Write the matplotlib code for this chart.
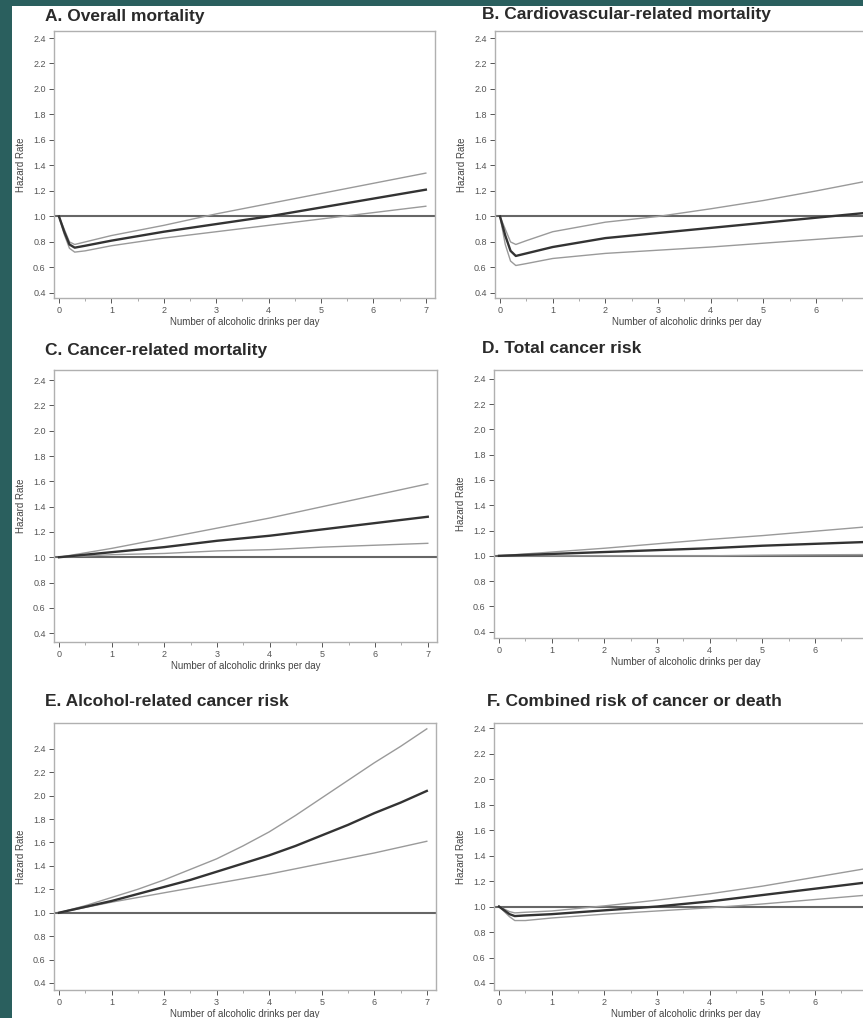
import matplotlib
matplotlib.use('Agg')
import matplotlib.pyplot as plt
from matplotlib.patches import Rectangle
from matplotlib.ticker import MultipleLocator, FormatStrFormatter

plt.rcParams['font.family'] = ['Liberation Sans', 'DejaVu Sans']

W, H = 863, 1018

# drinks per day (finer grid near 0 for the J-shaped panels)
X_DIP = [0, 0.1, 0.2, 0.3, 0.5, 1, 2, 3, 4, 5, 6, 7]
X_LIN = [0, 1, 2, 3, 4, 5, 6, 7]
X_HALF = [0, 0.5, 1, 1.5, 2, 2.5, 3, 3.5, 4, 4.5, 5, 5.5, 6, 6.5, 7]

TITLES = ['A. Overall mortality', 'B. Cardiovascular-related mortality',
          'C. Cancer-related mortality', 'D. Total cancer risk',
          'E. Alcohol-related cancer risk', 'F. Combined risk of cancer or death']

# hazard ratio, upper and lower confidence bound per panel
A_HR = [1.0, 0.88, 0.78, 0.755, 0.77, 0.81, 0.88, 0.94, 1.00, 1.07, 1.14, 1.21]
A_UP = [1.0, 0.90, 0.80, 0.78, 0.80, 0.85, 0.93, 1.02, 1.10, 1.18, 1.26, 1.34]
A_LO = [1.0, 0.86, 0.75, 0.72, 0.73, 0.77, 0.83, 0.88, 0.93, 0.98, 1.03, 1.08]

B_HR = [1.0, 0.85, 0.73, 0.69, 0.71, 0.76, 0.83, 0.87, 0.91, 0.95, 0.99, 1.03]
B_UP = [1.0, 0.90, 0.80, 0.78, 0.81, 0.88, 0.955, 1.0, 1.06, 1.125, 1.20, 1.28]
B_LO = [1.0, 0.78, 0.65, 0.615, 0.63, 0.67, 0.71, 0.735, 0.76, 0.79, 0.82, 0.85]

C_HR = [1.0, 1.04, 1.08, 1.13, 1.17, 1.22, 1.27, 1.32]
C_UP = [1.0, 1.07, 1.15, 1.23, 1.31, 1.40, 1.49, 1.58]
C_LO = [1.0, 1.02, 1.03, 1.05, 1.06, 1.08, 1.095, 1.11]

D_HR = [1.0, 1.015, 1.03, 1.045, 1.06, 1.08, 1.095, 1.11]
D_UP = [1.0, 1.03, 1.06, 1.095, 1.13, 1.16, 1.195, 1.23]
D_LO = [1.0, 1.0, 1.0, 1.0, 1.0, 1.005, 1.008, 1.01]

E_HR = [1.0, 1.05, 1.10, 1.16, 1.22, 1.28, 1.35, 1.42, 1.49, 1.57, 1.66, 1.75, 1.85, 1.94, 2.04]
E_UP = [1.0, 1.06, 1.13, 1.20, 1.28, 1.37, 1.46, 1.57, 1.69, 1.83, 1.98, 2.13, 2.28, 2.42, 2.57]
E_LO = [1.0, 1.045, 1.09, 1.13, 1.17, 1.21, 1.25, 1.29, 1.33, 1.375, 1.42, 1.465, 1.51, 1.56, 1.61]

F_HR = [1.0, 0.97, 0.94, 0.925, 0.93, 0.94, 0.97, 1.0, 1.04, 1.09, 1.14, 1.19]
F_UP = [1.0, 0.98, 0.96, 0.95, 0.955, 0.965, 1.005, 1.05, 1.10, 1.16, 1.23, 1.30]
F_LO = [1.0, 0.96, 0.92, 0.89, 0.89, 0.91, 0.94, 0.965, 0.99, 1.02, 1.055, 1.09]

Y_TICKS = [0.4, 0.6, 0.8, 1.0, 1.2, 1.4, 1.6, 1.8, 2.0, 2.2, 2.4]
X_TICKS = [0, 1, 2, 3, 4, 5, 6, 7]

panels = [
    (X_DIP, A_HR, A_UP, A_LO),
    (X_DIP, B_HR, B_UP, B_LO),
    (X_LIN, C_HR, C_UP, C_LO),
    (X_LIN, D_HR, D_UP, D_LO),
    (X_HALF, E_HR, E_UP, E_LO),
    (X_DIP, F_HR, F_UP, F_LO),
]

# pixel boxes (left, top, right, bottom), y limits, title position
layout = [
    ((54, 31, 435, 298), (0.36, 2.455), (45, 16)),
    ((495, 31, 878, 298), (0.36, 2.455), (482, 15)),
    ((54, 370, 437, 642), (0.33, 2.48), (45, 351)),
    ((494, 370, 877, 638), (0.35, 2.47), (482, 349)),
    ((54, 723, 436, 990), (0.34, 2.62), (45, 701)),
    ((494, 723, 877, 990), (0.345, 2.44), (487, 702)),
]

fig = plt.figure(figsize=(W / 100, H / 100), dpi=100)
fig.patch.set_facecolor('#2a5f5e')
fig.patches.append(Rectangle((12 / W, 0), 1 - 12 / W, 1 - 6 / H,
                             transform=fig.transFigure, facecolor='white',
                             edgecolor='none', zorder=-5))

for i, ((xs, hr, up, lo), title, (box, ylim, tpos)) in enumerate(zip(panels, TITLES, layout)):
    l, t, r, b = box
    ax = fig.add_axes([l / W, 1 - b / H, (r - l) / W, (b - t) / H])
    ax.axhline(1.0, color='#666666', lw=1.5, zorder=1)
    ax.plot(xs, up, color='#9a9a9a', lw=1.0, zorder=2)
    ax.plot(xs, lo, color='#9a9a9a', lw=1.0, zorder=2)
    ax.plot(xs, hr, color='#333333', lw=1.7, zorder=3)

    ax.set_xlim(-0.095, 7.175)
    ax.set_ylim(*ylim)
    ax.set_yticks(Y_TICKS)
    # right column is cut by the slide edge, the 7 falls outside
    ax.set_xticks(X_TICKS if i % 2 == 0 else X_TICKS[:-1])
    ax.xaxis.set_minor_locator(MultipleLocator(0.5))
    ax.yaxis.set_major_formatter(FormatStrFormatter('%.1f'))
    ax.tick_params(axis='both', which='major', labelsize=6.5, colors='#555555',
                   length=3.5, width=0.7, pad=2.5)
    ax.tick_params(axis='x', which='minor', length=2, width=0.5, color='#888888')
    for sp in ax.spines.values():
        sp.set_color('#b0b0b0')
        sp.set_linewidth(1.0)

    ax.set_ylabel('Hazard Rate', fontsize=7, color='#444444', labelpad=5)
    ax.set_xlabel('Number of alcoholic drinks per day', fontsize=7,
                  color='#444444', labelpad=1.5)

    fig.text(tpos[0] / W, 1 - tpos[1] / H, title, fontsize=12.5,
             fontweight='bold', color='#2a2a2a', va='center', ha='left')

fig.savefig('out.png', dpi=100, facecolor=fig.get_facecolor())
